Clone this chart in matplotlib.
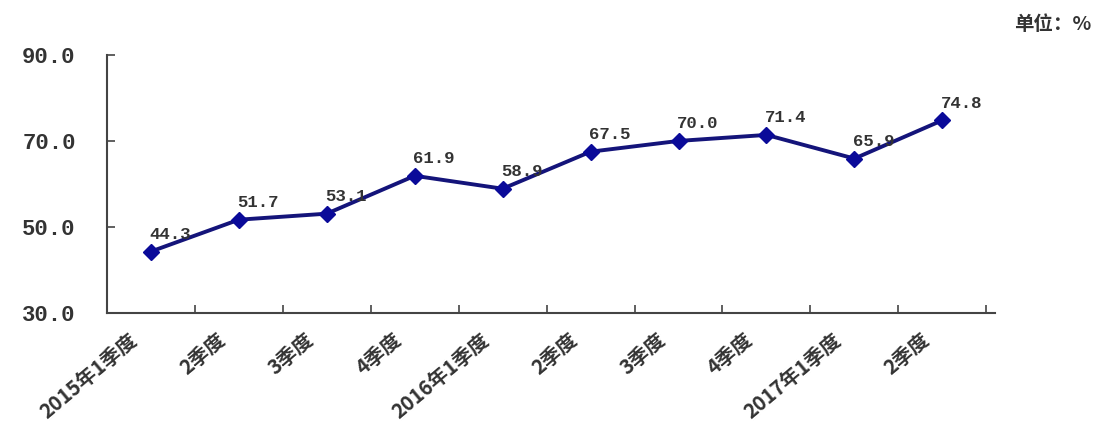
import matplotlib.pyplot as plt
import matplotlib.transforms as mtransforms

plt.rcParams['font.family'] = ['Noto Sans CJK SC', 'DejaVu Sans']

quarters = ['2015年1季度', '2季度', '3季度', '4季度', '2016年1季度',
            '2季度', '3季度', '4季度', '2017年1季度', '2季度']
rates = [44.3, 51.7, 53.1, 61.9, 58.9, 67.5, 70.0, 71.4, 65.9, 74.8]
y_ticks = [30, 50, 70, 90]

line_color = '#14147a'
axis_color = '#444444'
num_font = ['Liberation Mono', 'DejaVu Sans Mono']

fig = plt.figure(figsize=(11.02, 4.46), dpi=100)
ax = fig.add_axes([0.097, 0.298, 0.806, 0.579])

x = list(range(len(quarters)))
ax.plot(x, rates, color=line_color, lw=2.8, marker='D', ms=8,
        mfc='#0a0a99', mec='#0a0a99', zorder=3)

# data labels, a bit above and to the right of each point
for xi, v in zip(x, rates):
    ax.annotate(f'{v:.1f}', (xi, v), xytext=(14, 7), textcoords='offset points',
                ha='center', va='bottom', fontsize=12.5, fontweight='bold',
                family=num_font, color='#333333')

# axis runs a little past the last category, as in the original
ax.set_xlim(-0.5, len(quarters) - 0.4)
ax.set_ylim(30, 90)
ax.set_yticks(y_ticks)
ax.set_yticklabels([f'{t:.1f}' for t in y_ticks], family=num_font,
                   fontsize=16, fontweight='bold', color='#333333')

# ticks sit between categories like an office chart
ax.set_xticks([i + 0.5 for i in x])
ax.set_xticklabels([])
ax.tick_params(axis='x', direction='in', length=6, color=axis_color, width=1.2)
ax.tick_params(axis='y', direction='in', length=6, color=axis_color, width=1.2, pad=61)

for i, q in enumerate(quarters):
    off = mtransforms.offset_copy(ax.get_xaxis_transform(), fig=fig, x=-16, y=-24, units='dots')
    ax.text(i, 0, q, transform=off, rotation=40, rotation_mode='anchor',
            ha='right', va='center', fontsize=14.5, fontweight='bold', color='#333333')

for s in ['top', 'right']:
    ax.spines[s].set_visible(False)
for s in ['left', 'bottom']:
    ax.spines[s].set_color(axis_color)
    ax.spines[s].set_linewidth(1.5)
for lbl in ax.get_yticklabels():
    lbl.set_horizontalalignment('left')

fig.text(0.99, 0.945, '单位：%', ha='right', va='center', fontsize=14,
         fontweight='bold', color='#333333')

fig.savefig('out.png', dpi=100)
